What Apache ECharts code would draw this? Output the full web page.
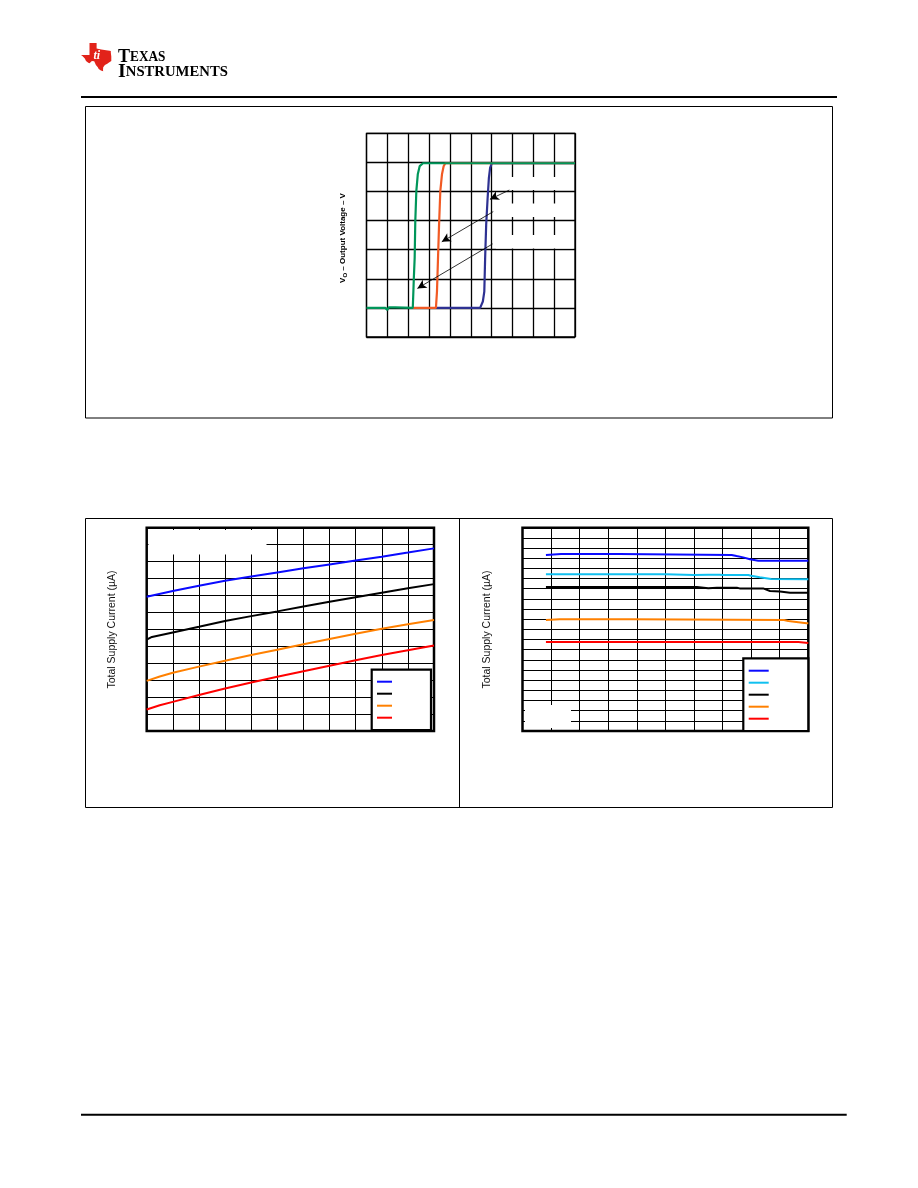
<!DOCTYPE html>
<html>
<head>
<meta charset="utf-8">
<script src="https://cdn.jsdelivr.net/npm/echarts@6/dist/echarts.min.js"></script>
<style>html,body{margin:0;padding:0;background:#fff}#c{width:918px;height:1188px}</style>
</head>
<body>
<div id="c"></div>
<script>
// ---------- Chart 1: output voltage vs input (grid units on x, volts on y) ----------
const c1X = { min: 0, max: 10, interval: 1 };
const c1Y = { min: -1, max: 6, interval: 1 };
const c1Blue = [[3.3,0],[5.45,0],[5.58,0.22],[5.65,0.56],[5.69,1.71],[5.74,2.86],[5.81,3.78],[5.87,4.47],[5.93,4.82],[6.01,4.97],[10,4.97]];
const c1Orange = [[2.2,0],[3.33,0],[3.38,0.56],[3.43,1.71],[3.48,2.86],[3.54,4.01],[3.62,4.59],[3.70,4.87],[3.78,4.97],[10,4.97]];
const c1Green = [[0,0],[0.9,0],[1.0,-0.07],[1.07,0.02],[1.38,0.02],[1.42,0],[2.22,0],[2.25,0.6],[2.27,1.02],[2.31,1.71],[2.34,2.98],[2.39,4.01],[2.46,4.59],[2.55,4.87],[2.71,4.97],[10,4.97]];
const c1ArrowTails = [[6.85,4.05],[6.08,3.31],[6.05,2.20]];
const c1ArrowHeads = [[5.92,3.73],[3.61,2.27],[2.44,0.67]];
const c1YTitle = ['V', 'O', ' \u2013 Output Voltage \u2013 V'];

// ---------- Chart 2: total supply current (left) ----------
const c2X = { min: 0, max: 11, interval: 1 };
const c2Y = { min: 0, max: 12, interval: 1 };
const c2Names = ['Supply 1', 'Supply 2', 'Supply 3', 'Supply 4'];
const c2Blue = [[0,7.93],[1,8.26],[2,8.57],[3,8.87],[4,9.12],[5,9.36],[6,9.6],[7,9.83],[8,10.06],[9,10.29],[10,10.53],[11,10.78]];
const c2Black = [[0,5.39],[0.2,5.55],[1,5.82],[2,6.15],[3,6.49],[4,6.78],[5,7.06],[6,7.35],[7,7.63],[8,7.9],[9,8.16],[10,8.42],[11,8.67]];
const c2Orange = [[0,2.96],[0.5,3.22],[1,3.44],[2,3.8],[3,4.15],[4,4.48],[5,4.8],[6,5.12],[7,5.43],[8,5.74],[9,6.04],[10,6.3],[11,6.55]];
const c2Red = [[0,1.27],[0.5,1.52],[1,1.72],[2,2.12],[3,2.51],[4,2.86],[5,3.2],[6,3.53],[7,3.85],[8,4.17],[9,4.48],[10,4.77],[11,5.05]];
const c2YTitle = 'Total Supply Current (\u00B5A)';

// ---------- Chart 3: total supply current (right) ----------
const c3X = { min: 0, max: 10, interval: 1 };
const c3Y = { min: 0, max: 20, interval: 1 };
const c3Names = ['Level 1', 'Level 2', 'Level 3', 'Level 4', 'Level 5'];
const c3Blue = [[0.82,17.31],[1.35,17.41],[3.38,17.41],[3.4,17.31],[7.32,17.31],[7.49,17.21],[7.72,17.08],[7.96,16.89],[8.25,16.75],[10,16.75]];
const c3Cyan = [[0.82,15.41],[5.0,15.41],[5.05,15.34],[6.0,15.34],[6.5,15.38],[6.9,15.38],[7.0,15.34],[7.9,15.34],[8.0,15.28],[8.3,15.12],[8.7,14.95],[8.75,14.92],[10,14.92]];
const c3Black = [[0.82,14.16],[6.1,14.16],[6.15,14.05],[6.5,14.05],[6.8,14.1],[7.5,14.1],[7.6,14.03],[8.42,14.03],[8.66,13.77],[9.01,13.72],[9.36,13.6],[10,13.6]];
const c3Orange = [[0.82,10.92],[1.3,11.0],[3.8,11.0],[3.82,10.92],[9.15,10.92],[9.3,10.82],[9.65,10.7],[9.94,10.59],[10,10.59]];
const c3Red = [[0.82,8.75],[9.65,8.75],[9.7,8.66],[10,8.66]];

const chart = echarts.init(document.getElementById('c'), null, { renderer: 'canvas' });

function axis(gridIndex, r, w) {
  return {
    gridIndex, type: 'value', min: r.min, max: r.max, interval: r.interval,
    axisLabel: { show: false }, axisTick: { show: false }, axisLine: { show: false },
    splitLine: { show: true, lineStyle: { color: '#000', width: w } }
  };
}
function line(name, data, color, gi, w, extra) {
  return Object.assign({
    name, type: 'line', data, xAxisIndex: gi, yAxisIndex: gi, symbol: 'none', showSymbol: false,
    lineStyle: { color, width: w }, itemStyle: { color }, silent: true, animation: false, z: 2
  }, extra || {});
}

const arrowData = c1ArrowTails.map((t, i) => [{ coord: t }, { coord: c1ArrowHeads[i] }]);

// Texas outline for logo
const texas = [[89.5,43],[96.6,43],[96.6,48.4],[101.3,49.5],[106.1,50.3],[109.6,50.8],[110.8,51.1],[110.8,52.5],[111.3,56.5],[111.3,61.1],[109,62.4],[107.3,63.8],[104.9,65.1],[103.2,67.3],[103,70],[103.2,71.3],[100.9,70.5],[98.7,69.1],[97.8,67.3],[95.9,65.1],[94.2,61.3],[91.9,61.1],[89.5,63.2],[88.3,62.7],[86,61.1],[84.8,58.4],[82.4,55.9],[81,55.1],[89.5,55.1]];

const logoRich = {
  a: { fontSize: 19, fontWeight: 'bold', fontFamily: 'Liberation Serif', color: '#000' },
  b: { fontSize: 14, fontWeight: 'bold', fontFamily: 'Liberation Serif', color: '#000' }
};

const option = {
  backgroundColor: '#fff',
  animation: false,
  textStyle: { fontFamily: 'Liberation Sans, Arial, sans-serif' },
  grid: [
    { left: 366.5, top: 133.3, width: 208.5, height: 203.7, show: true, borderColor: '#000', borderWidth: 1.3, backgroundColor: 'transparent' },
    { left: 146.7, top: 527.7, width: 287.3, height: 203.3, show: true, borderColor: '#000', borderWidth: 2.5, backgroundColor: 'transparent' },
    { left: 522.5, top: 527.7, width: 285.8, height: 203.3, show: true, borderColor: '#000', borderWidth: 2.5, backgroundColor: 'transparent' }
  ],
  xAxis: [axis(0, c1X, 1.3), axis(1, c2X, 1), axis(2, c3X, 1)],
  yAxis: [axis(0, c1Y, 1.3), axis(1, c2Y, 1), axis(2, c3Y, 1)],
  legend: [
    {
      data: c2Names, orient: 'vertical', left: 377, top: 675.7, padding: 0, itemGap: 0,
      itemWidth: 15, itemHeight: 2, icon: 'rect', selectedMode: false,
      formatter: () => ' ', textStyle: { fontSize: 10, lineHeight: 12 }, z: 6
    },
    {
      data: c3Names, orient: 'vertical', left: 748.7, top: 664.7, padding: 0, itemGap: 0,
      itemWidth: 20, itemHeight: 2, icon: 'rect', selectedMode: false,
      formatter: () => ' ', textStyle: { fontSize: 10, lineHeight: 12 }, z: 6
    }
  ],
  series: [
    line('Trip high', c1Blue, '#2e3192', 0, 2.2),
    line('Trip mid', c1Orange, '#f15a24', 0, 2.2),
    line('Trip low', c1Green, '#00965a', 0, 2.2, {
      markLine: {
        silent: true, animation: false, symbol: ['none', 'arrow'], symbolSize: [7, 9],
        label: { show: false }, lineStyle: { color: '#000', width: 0.8, type: 'solid' },
        emphasis: { disabled: true }, data: arrowData
      }
    }),
    line(c2Names[0], c2Blue, '#0a0aff', 1, 2),
    line(c2Names[1], c2Black, '#000000', 1, 2),
    line(c2Names[2], c2Orange, '#ff8000', 1, 2),
    line(c2Names[3], c2Red, '#ff0000', 1, 2),
    line(c3Names[0], c3Blue, '#0a0aff', 2, 2),
    line(c3Names[1], c3Cyan, '#10c0f0', 2, 2),
    line(c3Names[2], c3Black, '#000000', 2, 2),
    line(c3Names[3], c3Orange, '#ff8000', 2, 2),
    line(c3Names[4], c3Red, '#ff0000', 2, 2)
  ],
  graphic: [
    // header / footer rules
    { type: 'line', shape: { x1: 81, y1: 97, x2: 837, y2: 97 }, style: { stroke: '#000', lineWidth: 2 }, silent: true },
    { type: 'line', shape: { x1: 81, y1: 1114.7, x2: 846.7, y2: 1114.7 }, style: { stroke: '#000', lineWidth: 2 }, silent: true },
    // logo
    { type: 'polygon', shape: { points: texas }, style: { fill: '#e2231a' }, silent: true },
    { type: 'text', x: 93.5, y: 50, style: { text: 'ti', fill: '#fff', font: 'italic bold 12px Liberation Serif' }, silent: true },
    { type: 'text', x: 118, y: 48, originX: 0, scaleX: 0.95, style: { text: '{a|T}{b|EXAS}', textVerticalAlign: 'top', rich: logoRich }, silent: true },
    { type: 'text', x: 118, y: 62.5, originX: 0, scaleX: 1.05, style: { text: '{a|I}{b|NSTRUMENTS}', textVerticalAlign: 'top', rich: logoRich }, silent: true },
    // outer frames
    { type: 'rect', shape: { x: 85.5, y: 106.5, width: 747, height: 311.5 }, style: { fill: 'none', stroke: '#000', lineWidth: 1 }, silent: true },
    { type: 'rect', shape: { x: 85.5, y: 518.5, width: 747, height: 289 }, style: { fill: 'none', stroke: '#000', lineWidth: 1 }, silent: true },
    { type: 'line', shape: { x1: 459.5, y1: 518.5, x2: 459.5, y2: 807.5 }, style: { stroke: '#000', lineWidth: 1 }, silent: true },
    // blank label areas in chart 1
    { type: 'rect', shape: { x: 506, y: 177, width: 67.5, height: 13 }, style: { fill: '#fff' }, z: 3, silent: true },
    { type: 'rect', shape: { x: 496, y: 203.5, width: 77.5, height: 13.5 }, style: { fill: '#fff' }, z: 3, silent: true },
    { type: 'rect', shape: { x: 496, y: 235, width: 77.5, height: 13.5 }, style: { fill: '#fff' }, z: 3, silent: true },
    // blank label areas in charts 2 and 3
    { type: 'rect', shape: { x: 148.5, y: 530, width: 118, height: 24.5 }, style: { fill: '#fff' }, z: 3, silent: true },
    { type: 'rect', shape: { x: 525, y: 705, width: 46, height: 23 }, style: { fill: '#fff' }, z: 3, silent: true },
    // legend frames
    { type: 'rect', shape: { x: 371.7, y: 669.7, width: 59.3, height: 60.3 }, style: { fill: '#fff', stroke: '#000', lineWidth: 2.2 }, z: 3, silent: true },
    { type: 'rect', shape: { x: 743.3, y: 658.3, width: 65, height: 72.7 }, style: { fill: '#fff', stroke: '#000', lineWidth: 2.2 }, z: 3, silent: true },
    // axis titles
    { type: 'text', x: 343, y: 238, rotation: Math.PI / 2, style: {
        text: '{a|' + c1YTitle[0] + '}{b|' + c1YTitle[1] + '}{a|' + c1YTitle[2] + '}',
        textAlign: 'center', textVerticalAlign: 'middle',
        rich: { a: { fontSize: 8, fontWeight: 'bold', fontFamily: 'Liberation Sans', color: '#000' },
                b: { fontSize: 6, fontWeight: 'bold', fontFamily: 'Liberation Sans', color: '#000', padding: [4, 0, 0, 0] } } }, silent: true },
    { type: 'text', x: 112.3, y: 629.5, rotation: Math.PI / 2, style: { text: c2YTitle, textAlign: 'center', textVerticalAlign: 'middle', font: '10.5px Liberation Sans', fill: '#111' }, silent: true },
    { type: 'text', x: 487.3, y: 629.5, rotation: Math.PI / 2, style: { text: c2YTitle, textAlign: 'center', textVerticalAlign: 'middle', font: '10.5px Liberation Sans', fill: '#111' }, silent: true }
  ]
};
chart.setOption(option);
</script>
</body>
</html>
